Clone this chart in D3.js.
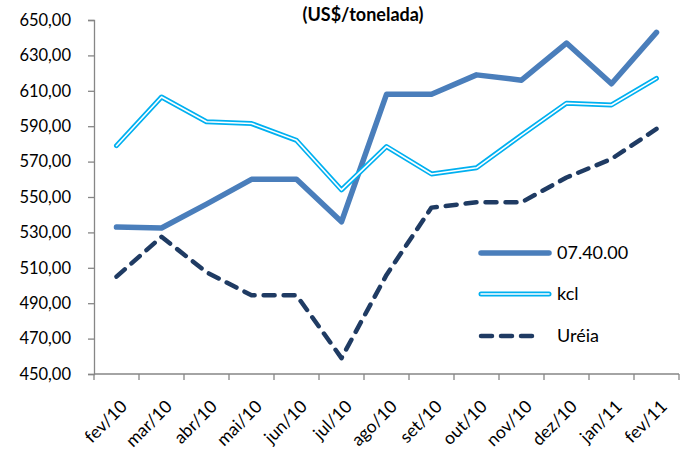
<!DOCTYPE html>
<html><head><meta charset="utf-8">
<script src="https://cdn.jsdelivr.net/npm/d3@7"></script>
<style>body{margin:0;background:#fff}svg{display:block}</style>
</head><body>
<script>
const categories = ["fev/10","mar/10","abr/10","mai/10","jun/10","jul/10","ago/10","set/10","out/10","nov/10","dez/10","jan/11","fev/11"];
const s07 = [533,532.5,546,560,560,536,608,608,619,616,637,614,643];
const kcl = [579,606.5,592.5,591.5,582,554,578.5,563,566.5,585,603,602,617];
const ureia = [505,527.5,507.5,494.5,494.5,459,506,544,547,547,561,571.5,588.5];
const yTicks = [450,470,490,510,530,550,570,590,610,630,650];
const seriesNames = ["07.40.00","kcl","Uréia"];
const title = "(US$/tonelada)";

const W=680,H=450;
const svg=d3.select("body").append("svg").attr("width",W).attr("height",H)
  .style("font-family","Lato, 'Open Sans', sans-serif");
const x0=94,x1=679,yTop=20,yBot=374;
const x=d3.scaleBand().domain(categories).range([x0,x1]);
const y=d3.scaleLinear().domain([450,650]).range([yBot,yTop]);
const fmt=v=>d3.format(".2f")(v).replace(".",",");

// title
svg.append("text").attr("x",363).attr("y",21).attr("text-anchor","middle")
  .attr("font-weight","bold").attr("font-size",18).attr("fill","#000").text(title);

// y axis
const ya=svg.append("g").attr("transform",`translate(${x0},0)`)
  .call(d3.axisLeft(y).tickValues(yTicks).tickFormat(fmt).tickSize(6).tickPadding(17));
ya.selectAll("path,line").attr("stroke","#868686").attr("stroke-width",1.3);
ya.selectAll("text").attr("font-size",16.5).attr("fill","#000").attr("font-family","Lato, sans-serif");

// x axis
const xa=svg.append("g").attr("transform",`translate(0,${yBot})`);
xa.append("line").attr("x1",x0).attr("x2",x1).attr("stroke","#868686").attr("stroke-width",1.3);
xa.selectAll("line.t").data(categories.concat(["__end"])).enter().append("line")
  .attr("x1",(d,i)=>x0+i*x.step()).attr("x2",(d,i)=>x0+i*x.step()).attr("y1",0).attr("y2",6)
  .attr("stroke","#868686").attr("stroke-width",1.3);
xa.selectAll("text").data(categories).enter().append("text")
  .attr("transform",d=>`translate(${x(d)+x.bandwidth()/2+3},${25}) rotate(-45)`)
  .attr("text-anchor","end").attr("dy","0.7em").attr("font-size",17.5).attr("fill","#000").text(d=>d);

const cx=(d,i)=>x(categories[i])+x.bandwidth()/2;
const line=d3.line().x((d,i)=>cx(d,i)).y(d=>y(d));

// 07.40.00
svg.append("path").attr("d",line(s07)).attr("fill","none").attr("stroke","#4A7EBB")
  .attr("stroke-width",5.5).attr("stroke-linejoin","round").attr("stroke-linecap","round");
// kcl double line
svg.append("path").attr("d",line(kcl)).attr("fill","none").attr("stroke","#00B0F0")
  .attr("stroke-width",5).attr("stroke-linejoin","round").attr("stroke-linecap","round");
svg.append("path").attr("d",line(kcl)).attr("fill","none").attr("stroke","#fff")
  .attr("stroke-width",1.6).attr("stroke-linejoin","round").attr("stroke-linecap","round");
// Uréia
svg.append("path").attr("d",line(ureia)).attr("fill","none").attr("stroke","#1F3B63")
  .attr("stroke-width",4.5).attr("stroke-dasharray","11,9").attr("stroke-linejoin","round").attr("stroke-linecap","round");

// legend
const lg=svg.append("g");
const ly=[253,294,336];
lg.append("line").attr("x1",481).attr("x2",549).attr("y1",ly[0]).attr("y2",ly[0])
  .attr("stroke","#4A7EBB").attr("stroke-width",5.5).attr("stroke-linecap","round");
lg.append("line").attr("x1",481).attr("x2",549).attr("y1",ly[1]).attr("y2",ly[1])
  .attr("stroke","#00B0F0").attr("stroke-width",5).attr("stroke-linecap","round");
lg.append("line").attr("x1",481).attr("x2",549).attr("y1",ly[1]).attr("y2",ly[1])
  .attr("stroke","#fff").attr("stroke-width",1.6).attr("stroke-linecap","round");
lg.append("line").attr("x1",481).attr("x2",541).attr("y1",ly[2]).attr("y2",ly[2])
  .attr("stroke","#1F3B63").attr("stroke-width",4.5).attr("stroke-dasharray","11,9").attr("stroke-linecap","round");
lg.selectAll("text").data(seriesNames).enter().append("text")
  .attr("x",557).attr("y",(d,i)=>ly[i]).attr("dy","0.35em").attr("font-size",18).attr("fill","#000").text(d=>d);
</script>
</body></html>
